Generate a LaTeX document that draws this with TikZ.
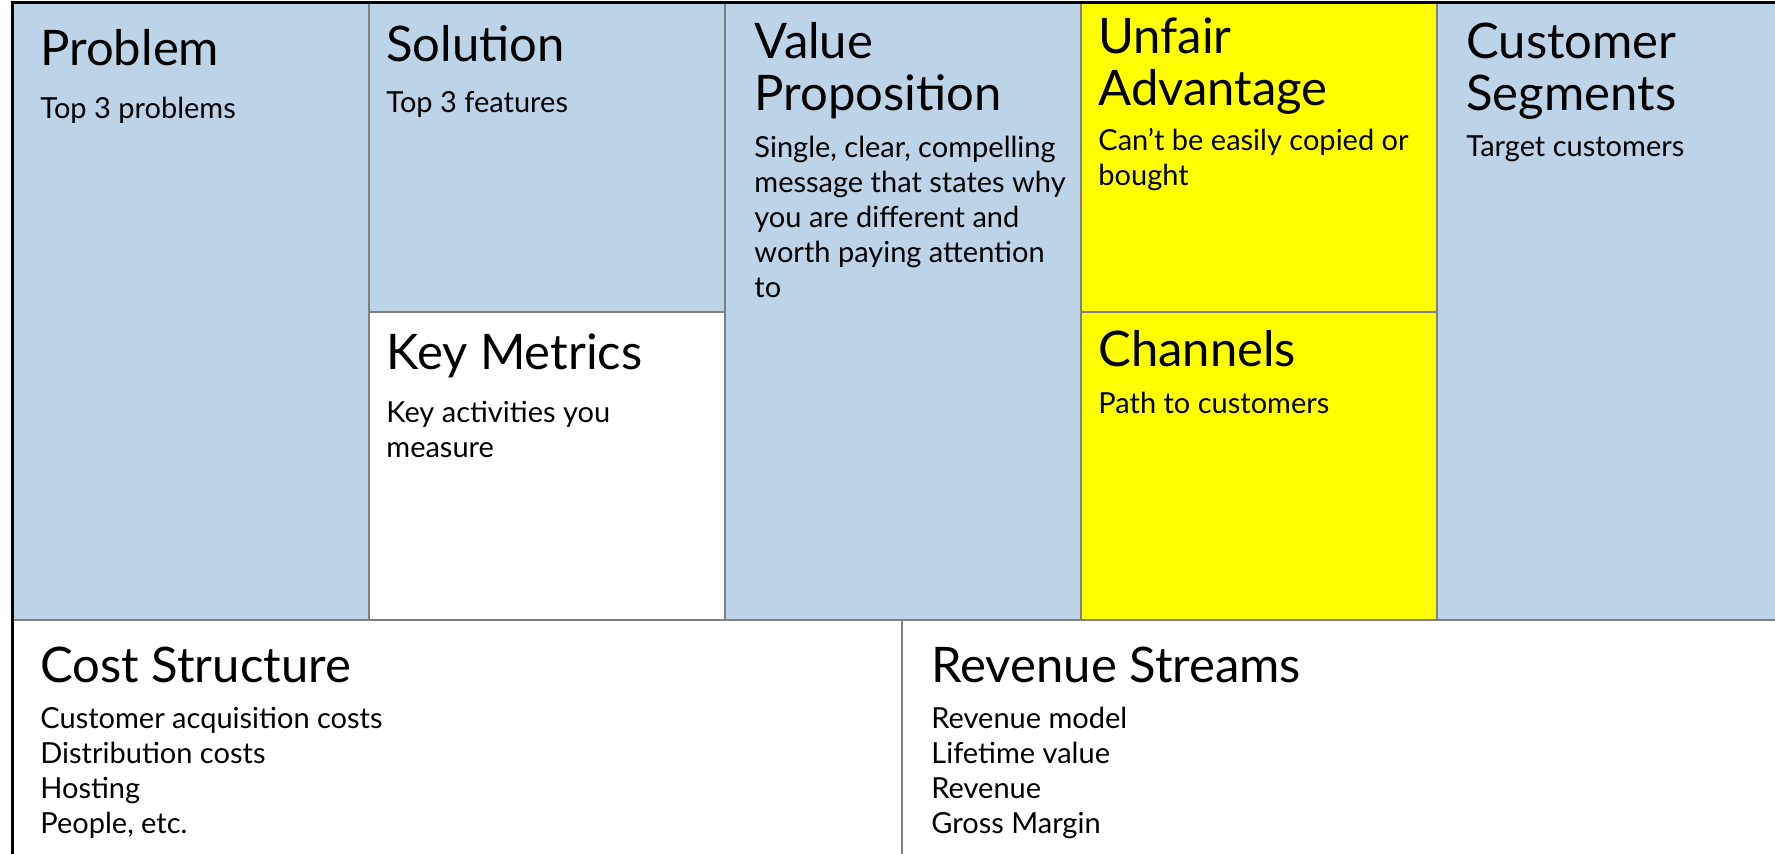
\documentclass[tikz,border=0pt]{standalone}
\usepackage{fontspec}
\setmainfont{Lato}
\usepackage{xcolor}
\usepackage{tikz}

\definecolor{canvasblue}{RGB}{189,211,231}
\definecolor{canvasyellow}{RGB}{255,255,0}
\definecolor{divgray}{RGB}{128,128,128}

\tikzset{
  cell/.style={draw=divgray,line width=1pt},
  title/.style={anchor=base west,inner sep=0pt,align=left,font=\fontsize{24.5}{26}\selectfont},
  body/.style={anchor=base west,inner sep=0pt,align=left,font=\fontsize{14.5}{17.5}\selectfont}
}

\begin{document}
\begin{tikzpicture}[x=0.5pt,y=-0.5pt]
\useasboundingbox (0,0) rectangle (1775,853);
\clip (0,0) rectangle (1775,853);
\filldraw[cell,fill=canvasblue]   (12.5,2) rectangle (369,620);
\filldraw[cell,fill=canvasblue]   (369,2) rectangle (724.5,311.5);
\filldraw[cell,fill=white]        (369,311.5) rectangle (724.5,620);
\filldraw[cell,fill=canvasblue]   (724.5,2) rectangle (1081,620);
\filldraw[cell,fill=canvasyellow] (1081,2) rectangle (1437,311.5);
\filldraw[cell,fill=canvasyellow] (1081,311.5) rectangle (1437,620);
\filldraw[cell,fill=canvasblue]   (1437,2) rectangle (1800,620);
\filldraw[cell,fill=white]        (12.5,620) rectangle (902,880);
\filldraw[cell,fill=white]        (902,620) rectangle (1800,880);
\draw[line width=1.5pt] (12.5,880) -- (12.5,2) -- (1800,2);

\node (prob) at (40,65) [title] {Problem};
\node (probtxt) at (40,118) [body] {Top 3 problems};
\node (sol) at (386,61) [title] {Solution};
\node (soltxt) at (386,112) [body] {Top 3 features};
\node (km) at (386,369) [title] {Key Metrics};
\node (kmtxt) at (386,457) [body] {Key activities you\\measure};
\node (vp) at (754,110) [title] {Value\\Proposition};
\node (vptxt) at (754,297) [body] {Single, clear, compelling\\message that states why\\you are different and\\worth paying attention\\to};
\node (ua) at (1098,105) [title] {Unfair\\Advantage};
\node (uatxt) at (1098,185) [body] {Can’t be easily copied or\\bought};
\node (ch) at (1098,366) [title] {Channels};
\node (chtxt) at (1098,413) [body] {Path to customers};
\node (cs) at (1466,110) [title] {Customer\\Segments};
\node (cstxt) at (1466,156) [body] {Target customers};
\node (cost) at (40,682) [title] {Cost Structure};
\node (costtxt) at (40,833) [body] {Customer acquisition costs\\Distribution costs\\Hosting\\People, etc.};
\node (rev) at (931,682) [title] {Revenue Streams};
\node (revtxt) at (931,833) [body] {Revenue model\\Lifetime value\\Revenue\\Gross Margin};
\end{tikzpicture}
\end{document}
